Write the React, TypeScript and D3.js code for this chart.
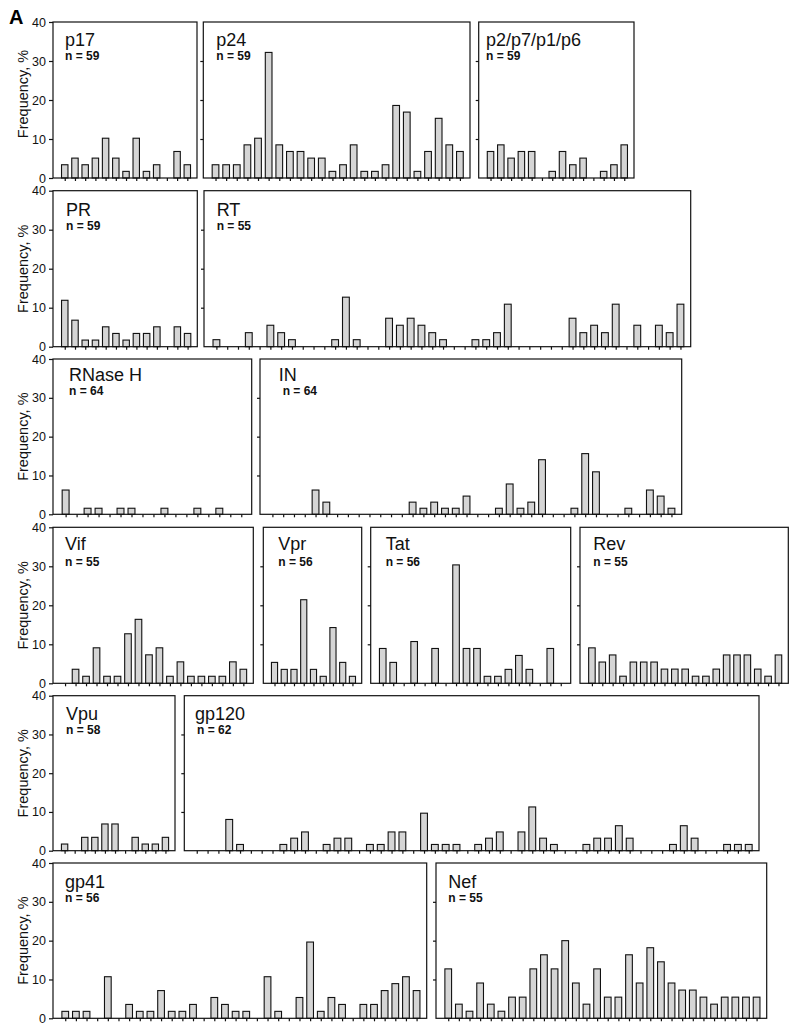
import React, { useEffect, useRef } from 'react';
import * as d3 from 'd3';

// frequencies (%) per position
const p17 = [3.4, 5.1, 3.4, 5.1, 10.2, 5.1, 1.7, 10.2, 1.7, 3.4, 0, 6.8, 3.4];
const p24 = [3.4, 3.4, 3.4, 8.5, 10.2, 32.2, 8.5, 6.8, 6.8, 5.1, 5.1, 1.7, 3.4, 8.5, 1.7, 1.7, 3.4, 18.6, 16.9, 1.7, 6.8, 15.3, 8.5, 6.8];
const p2p7p1p6 = [6.8, 8.5, 5.1, 6.8, 6.8, 0, 1.7, 6.8, 3.4, 5.1, 0, 1.7, 3.4, 8.5];
const pr = [11.9, 6.8, 1.7, 1.7, 5.1, 3.4, 1.7, 3.4, 3.4, 5.1, 0, 5.1, 3.4];
const rt = [
  1.8, 0, 0, 3.6, 0, 5.5, 3.6, 1.8, 0, 0, 0, 1.8, 12.7, 1.8, 0, 0, 7.3, 5.5, 7.3, 5.5, 3.6, 1.8,
  0, 0, 1.8, 1.8, 3.6, 10.9, 0, 0, 0, 0, 0, 7.3, 3.6, 5.5, 3.6, 10.9, 0, 5.5, 0, 5.5, 3.6, 10.9,
];
const rnaseH = [6.25, 0, 1.56, 1.56, 0, 1.56, 1.56, 0, 0, 1.56, 0, 0, 1.56, 0, 1.56, 0, 0];
const integrase = [
  0, 0, 0, 0, 6.25, 3.13, 0, 0, 0, 0, 0, 0, 0, 3.13, 1.56, 3.13, 1.56, 1.56, 4.69, 0, 0, 1.56, 7.81,
  1.56, 3.13, 14.06, 0, 0, 1.56, 15.63, 10.94, 0, 0, 1.56, 0, 6.25, 4.69, 1.56,
];
const vif = [0, 3.6, 1.8, 9.1, 1.8, 1.8, 12.7, 16.4, 7.3, 9.1, 1.8, 5.5, 1.8, 1.8, 1.8, 1.8, 5.5, 3.6];
const vpr = [5.36, 3.57, 3.57, 21.43, 3.57, 1.79, 14.29, 5.36, 1.79];
const tat = [8.93, 5.36, 0, 10.71, 0, 8.93, 0, 30.36, 8.93, 8.93, 1.79, 1.79, 3.57, 7.14, 3.57, 0, 8.93, 0];
const rev = [9.09, 5.45, 7.27, 1.82, 5.45, 5.45, 5.45, 3.64, 3.64, 3.64, 1.82, 1.82, 3.64, 7.27, 7.27, 7.27, 3.64, 1.82, 7.27];
const vpu = [1.72, 0, 3.45, 3.45, 6.9, 6.9, 0, 3.45, 1.72, 1.72, 3.45];
const gp120 = [
  0, 0, 0, 8.06, 1.61, 0, 0, 0, 1.61, 3.23, 4.84, 0, 1.61, 3.23, 3.23, 0, 1.61, 1.61, 4.84, 4.84, 0,
  9.68, 1.61, 1.61, 1.61, 0, 1.61, 3.23, 4.84, 0, 4.84, 11.29, 3.23, 1.61, 0, 0, 1.61, 3.23, 3.23,
  6.45, 3.23, 0, 0, 0, 1.61, 6.45, 3.23, 0, 0, 1.61, 1.61, 1.61,
];
const gp41 = [
  1.79, 1.79, 1.79, 0, 10.71, 0, 3.57, 1.79, 1.79, 7.14, 1.79, 1.79, 3.57, 0, 5.36, 3.57, 1.79, 1.79,
  0, 10.71, 1.79, 0, 5.36, 19.64, 1.79, 5.36, 3.57, 0, 3.57, 3.57, 7.14, 8.93, 10.71, 7.14,
];
const nef = [
  12.73, 3.64, 1.82, 9.09, 3.64, 1.82, 5.45, 5.45, 12.73, 16.36, 12.73, 20.0, 9.09, 3.64, 12.73,
  5.45, 5.45, 16.36, 9.09, 18.18, 14.55, 9.09, 7.27, 7.27, 5.45, 3.64, 5.45, 5.45, 5.45, 5.45,
];

const yTicks = [0, 10, 20, 30, 40];

type Row = { top: number; bottom: number; titleY: number; nY: number; labelDy: number };
type Panel = {
  name: string;
  n: number;
  values: number[];
  row: number;
  left: number;
  right: number;
  titleDx: number;
  nDx?: number;
};

const rows: Row[] = [
  { top: 22, bottom: 178, titleY: 24, nY: 38, labelDy: -6 },
  { top: 190.7, bottom: 346.7, titleY: 25, nY: 39.2, labelDy: 0 },
  { top: 359, bottom: 514.3, titleY: 21.5, nY: 35.6, labelDy: 0 },
  { top: 527.3, bottom: 683.3, titleY: 22.7, nY: 38.4, labelDy: 0 },
  { top: 695.7, bottom: 850.7, titleY: 24, nY: 38, labelDy: 0 },
  { top: 863, bottom: 1018.3, titleY: 25.3, nY: 39.3, labelDy: 0 },
];

const panels: Panel[] = [
  { name: 'p17', n: 59, values: p17, row: 0, left: 53, right: 197, titleDx: 12 },
  { name: 'p24', n: 59, values: p24, row: 0, left: 203.3, right: 470, titleDx: 13 },
  { name: 'p2/p7/p1/p6', n: 59, values: p2p7p1p6, row: 0, left: 478.7, right: 634, titleDx: 7.3 },
  { name: 'PR', n: 59, values: pr, row: 1, left: 53, right: 197.3, titleDx: 13 },
  { name: 'RT', n: 55, values: rt, row: 1, left: 204, right: 690.7, titleDx: 12.7 },
  { name: 'RNase H', n: 64, values: rnaseH, row: 2, left: 53, right: 251.7, titleDx: 16 },
  { name: 'IN', n: 64, values: integrase, row: 2, left: 260, right: 681.7, titleDx: 18.7, nDx: 4 },
  { name: 'Vif', n: 55, values: vif, row: 3, left: 53, right: 253.3, titleDx: 12 },
  { name: 'Vpr', n: 56, values: vpr, row: 3, left: 263.3, right: 361.7, titleDx: 15 },
  { name: 'Tat', n: 56, values: tat, row: 3, left: 370.7, right: 570.7, titleDx: 15 },
  { name: 'Rev', n: 55, values: rev, row: 3, left: 580, right: 788.3, titleDx: 13.3 },
  { name: 'Vpu', n: 58, values: vpu, row: 4, left: 53, right: 175, titleDx: 13 },
  { name: 'gp120', n: 62, values: gp120, row: 4, left: 184.3, right: 759, titleDx: 10.7, nDx: 2 },
  { name: 'gp41', n: 56, values: gp41, row: 5, left: 53, right: 426.7, titleDx: 12 },
  { name: 'Nef', n: 55, values: nef, row: 5, left: 436, right: 766.7, titleDx: 12.3 },
];

const font = '"Liberation Sans", Arial, Helvetica, sans-serif';

const App: React.FC = () => {
  const svgRef = useRef<SVGSVGElement>(null);

  useEffect(() => {
    if (!svgRef.current) return;
    const svg = d3.select(svgRef.current);
    svg.selectAll('*').remove();

    svg.append('rect').attr('width', 800).attr('height', 1032).attr('fill', '#fff');

    // panel letter
    svg
      .append('text')
      .attr('x', 9)
      .attr('y', 24)
      .attr('font-family', font)
      .attr('font-size', 20)
      .attr('font-weight', 'bold')
      .text('A');

    // y axis titles, one per row
    rows.forEach((r) => {
      const cy = (r.top + r.bottom) / 2 + r.labelDy;
      svg
        .append('text')
        .attr('transform', `translate(28,${cy}) rotate(-90)`)
        .attr('text-anchor', 'middle')
        .attr('font-family', font)
        .attr('font-size', 14.5)
        .attr('fill', '#111')
        .text('Frequency, %');
    });

    panels.forEach((p) => {
      const r = rows[p.row];
      const N = p.values.length;
      const g = svg.append('g');

      const x = d3.scaleLinear().domain([-0.15, N + 0.95]).range([p.left, p.right]);
      const y = d3.scaleLinear().domain([0, 40]).range([r.bottom, r.top]);
      const barW = (x(1) - x(0)) * 0.63;

      const firstCol = p.left < 60;

      // y axis
      const yAxis = d3
        .axisLeft(y)
        .tickValues(firstCol ? yTicks : yTicks.slice(1, -1))
        .tickSize(firstCol ? 4 : 3)
        .tickPadding(3)
        .tickFormat((d) => (firstCol ? String(d) : ''));
      const ya = g.append('g').attr('transform', `translate(${p.left},0)`).call(yAxis);
      ya.select('.domain').remove();
      ya.selectAll('line').attr('stroke', '#111').attr('stroke-width', 1.2);
      ya.selectAll('text')
        .attr('font-family', font)
        .attr('font-size', 12.5)
        .attr('fill', '#111');

      // x axis ticks at every position
      const xAxis = d3
        .axisBottom(x)
        .tickValues(d3.range(1, N + 1))
        .tickSize(3)
        .tickFormat(() => '');
      const xa = g.append('g').attr('transform', `translate(0,${r.bottom})`).call(xAxis);
      xa.select('.domain').remove();
      xa.selectAll('line').attr('stroke', '#111').attr('stroke-width', 1.2);

      // bars
      g.selectAll('rect.bar')
        .data(p.values.map((v, i) => ({ v, i })).filter((d) => d.v > 0))
        .enter()
        .append('rect')
        .attr('class', 'bar')
        .attr('x', (d) => x(d.i + 1) - barW / 2)
        .attr('y', (d) => y(d.v))
        .attr('width', barW)
        .attr('height', (d) => r.bottom - y(d.v))
        .attr('fill', '#d5d5d5')
        .attr('stroke', '#111')
        .attr('stroke-width', 1.1);

      // frame
      g.append('rect')
        .attr('x', p.left)
        .attr('y', r.top)
        .attr('width', p.right - p.left)
        .attr('height', r.bottom - r.top)
        .attr('fill', 'none')
        .attr('stroke', '#111')
        .attr('stroke-width', 1.2);

      // titles
      g.append('text')
        .attr('x', p.left + p.titleDx)
        .attr('y', r.top + r.titleY)
        .attr('font-family', font)
        .attr('font-size', 18)
        .attr('fill', '#111')
        .text(p.name);
      g.append('text')
        .attr('x', p.left + p.titleDx + (p.nDx || 0))
        .attr('y', r.top + r.nY)
        .attr('font-family', font)
        .attr('font-size', 12)
        .attr('font-weight', 'bold')
        .attr('fill', '#111')
        .text(`n = ${p.n}`);
    });
  }, []);

  return (
    <div style={{ position: 'absolute', left: 0, top: 0 }}>
      <svg ref={svgRef} width={800} height={1032} style={{ display: 'block' }} />
    </div>
  );
};

export default App;
